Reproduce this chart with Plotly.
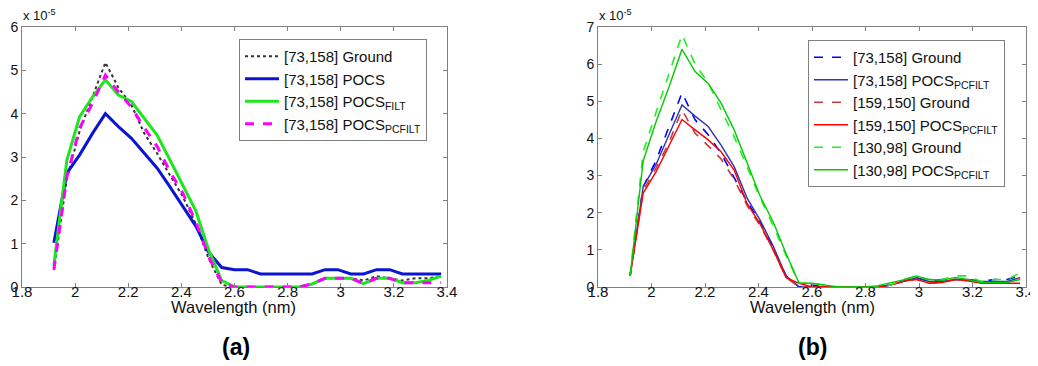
import plotly.graph_objects as go
from plotly.subplots import make_subplots

# Wavelength samples (x axis)
wavelength = [1.920, 1.969, 2.017, 2.066, 2.114, 2.163, 2.212, 2.260, 2.309, 2.357,
              2.406, 2.455, 2.503, 2.552, 2.600, 2.649, 2.698, 2.746, 2.795, 2.843,
              2.892, 2.941, 2.989, 3.038, 3.086, 3.135, 3.184, 3.232, 3.281, 3.329, 3.378]

# Panel (a) values, units of 1e-5
a_ground = [0.4, 2.5, 3.6, 4.4, 5.18, 4.6, 4.2, 3.55, 3.08, 2.58, 2.08, 1.45, 0.65, 0.05, 0, 0, 0, 0, 0, 0,
            0.07, 0.2, 0.2, 0.2, 0.15, 0.25, 0.2, 0.15, 0.2, 0.2, 0.25]
a_pocs = [1.02, 2.63, 3.05, 3.55, 4.0, 3.7, 3.43, 3.08, 2.74, 2.31, 1.85, 1.4, 0.8, 0.45, 0.4, 0.4, 0.3, 0.3, 0.3, 0.3,
          0.3, 0.4, 0.4, 0.3, 0.3, 0.4, 0.4, 0.3, 0.3, 0.3, 0.3]
a_filt = [0.5, 2.93, 3.93, 4.39, 4.78, 4.43, 4.28, 3.9, 3.5, 2.93, 2.35, 1.75, 0.85, 0.15, 0, 0, 0, 0, 0, 0,
          0.07, 0.2, 0.2, 0.2, 0.08, 0.2, 0.2, 0.1, 0.1, 0.15, 0.25]
a_pcfilt = [0.4, 2.55, 3.67, 4.25, 4.89, 4.5, 4.15, 3.68, 3.24, 2.66, 2.16, 1.5, 0.7, 0.1, 0, 0, 0, 0, 0, 0,
            0.07, 0.2, 0.2, 0.2, 0.08, 0.2, 0.2, 0.1, 0.1, 0.1, 0.1]

# Panel (b) values, units of 1e-5
b_g73 = [0.3, 2.7, 3.4, 4.3, 5.23, 4.5, 4.1, 3.6, 2.95, 2.3, 1.75, 1.05, 0.3, 0.0, 0.05, 0, 0, 0, 0, 0,
         0.05, 0.15, 0.25, 0.15, 0.2, 0.2, 0.2, 0.15, 0.2, 0.2, 0.3]
b_p73 = [0.3, 2.7, 3.3, 4.1, 4.9, 4.6, 4.32, 3.82, 3.24, 2.4, 1.8, 1.1, 0.3, 0.0, 0, 0, 0, 0, 0, 0,
         0.05, 0.15, 0.25, 0.15, 0.15, 0.2, 0.2, 0.15, 0.15, 0.15, 0.25]
b_g159 = [0.3, 2.6, 3.2, 3.9, 4.77, 4.14, 3.8, 3.45, 2.9, 2.2, 1.65, 1.0, 0.25, 0.0, 0, 0, 0, 0, 0, 0,
          0.05, 0.15, 0.2, 0.1, 0.12, 0.2, 0.17, 0.1, 0.1, 0.1, 0.25]
b_p159 = [0.3, 2.53, 3.1, 3.8, 4.51, 4.23, 3.96, 3.64, 3.15, 2.25, 1.7, 1.0, 0.25, 0.1, 0, 0, 0, 0, 0, 0,
          0.05, 0.15, 0.21, 0.1, 0.12, 0.2, 0.17, 0.1, 0.1, 0.1, 0.1]
b_g130 = [0.3, 3.64, 4.7, 5.75, 6.79, 6.0, 5.5, 4.77, 4.05, 3.24, 2.4, 1.65, 0.85, 0.1, 0.1, 0.05, 0, 0, 0, 0,
          0.05, 0.2, 0.28, 0.2, 0.2, 0.3, 0.3, 0.15, 0.2, 0.2, 0.38]
b_p130 = [0.3, 3.4, 4.45, 5.4, 6.4, 5.8, 5.48, 4.95, 4.23, 3.33, 2.45, 1.75, 0.9, 0.1, 0.1, 0.05, 0, 0, 0, 0.03,
          0.1, 0.19, 0.3, 0.2, 0.18, 0.26, 0.2, 0.12, 0.12, 0.12, 0.2]

x_ticks = [1.8, 2, 2.2, 2.4, 2.6, 2.8, 3, 3.2, 3.4]
x_tick_text = ["1.8", "2", "2.2", "2.4", "2.6", "2.8", "3", "3.2", "3.4"]

# The page body has an 8px margin; lay out in window pixels and shift by it.
OFF = 8
W, H = 1038 - OFF, 366 - OFF
TOP, BOT = 27 - OFF, 287 - OFF


def px(xw):
    return (xw - OFF) / W


def py(yw):
    return (BOT - (yw - OFF)) / (BOT - TOP)


fig = make_subplots(rows=1, cols=2)


def add(col, y, name, color, width, dash, legend):
    fig.add_trace(go.Scatter(x=wavelength, y=y, mode="lines", name=name,
                             line=dict(color=color, width=width, dash=dash),
                             legend=legend), row=1, col=col)


add(1, a_ground, "[73,158] Ground", "#333333", 2, "dot", "legend")
add(1, a_pocs, "[73,158] POCS", "#0a14d2", 3, "solid", "legend")
add(1, a_filt, "[73,158] POCS<sub>FILT</sub>", "#1ee61e", 3, "solid", "legend")
add(1, a_pcfilt, "[73,158] POCS<sub>PCFILT</sub>", "#ff00ff", 3, "dash", "legend")

add(2, b_g73, "[73,158] Ground", "#0000ff", 1.6, "dash", "legend2")
add(2, b_p73, "[73,158] POCS<sub>PCFILT</sub>", "#3232b4", 1.4, "solid", "legend2")
add(2, b_g159, "[159,150] Ground", "#c83c3c", 1.6, "dash", "legend2")
add(2, b_p159, "[159,150] POCS<sub>PCFILT</sub>", "#ff0000", 1.4, "solid", "legend2")
add(2, b_g130, "[130,98] Ground", "#22ee22", 1.6, "dash", "legend2")
add(2, b_p130, "[130,98] POCS<sub>PCFILT</sub>", "#00cc00", 1.4, "solid", "legend2")

axis_common = dict(showline=True, linecolor="#808080", linewidth=1, mirror="ticks",
                   ticks="inside", ticklen=4, tickcolor="#808080", showgrid=False,
                   zeroline=False)

fig.update_xaxes(range=[1.8, 3.4], tickvals=x_ticks, ticktext=x_tick_text,
                 tickfont=dict(family="Arial", size=15, color="#111"),
                 ticklabelstandoff=-9, **axis_common)
fig.update_layout(xaxis=dict(domain=[px(22), px(447)]), xaxis2=dict(domain=[px(598), px(1026)]))
fig.update_yaxes(range=[0, 6], tickvals=[0, 1, 2, 3, 4, 5, 6], row=1, col=1,
                 tickfont=dict(family="Arial", size=14, color="#111"), **axis_common)
fig.update_yaxes(range=[0, 7], tickvals=[0, 1, 2, 3, 4, 5, 6, 7], row=1, col=2,
                 tickfont=dict(family="Arial", size=14, color="#111"), **axis_common)

legend_common = dict(bgcolor="white", bordercolor="#808080", borderwidth=1,
                     font=dict(family="Arial", size=15, color="#111"),
                     xanchor="left", yanchor="top", itemwidth=34, tracegroupgap=0)

ann_font = dict(family="Arial", size=13, color="#111")
annotations = [
    dict(text="x 10<sup>-5</sup>", x=px(21), y=py(25), xref="paper", yref="paper",
         showarrow=False, xanchor="left", yanchor="bottom", font=ann_font),
    dict(text="x 10<sup>-5</sup>", x=px(597), y=py(25), xref="paper", yref="paper",
         showarrow=False, xanchor="left", yanchor="bottom", font=ann_font),
    dict(text="Wavelength (nm)", x=px(233), y=py(307), xref="paper", yref="paper",
         showarrow=False, xanchor="center", yanchor="middle",
         font=dict(family="Arial", size=16.5, color="#111")),
    dict(text="Wavelength (nm)", x=px(812), y=py(307), xref="paper", yref="paper",
         showarrow=False, xanchor="center", yanchor="middle",
         font=dict(family="Arial", size=16.5, color="#111")),
    dict(text="<b>(a)</b>", x=px(236), y=py(347), xref="paper", yref="paper",
         showarrow=False, xanchor="center", yanchor="middle", font=dict(family="Arial", size=23, color="#000")),
    dict(text="<b>(b)</b>", x=px(812), y=py(347), xref="paper", yref="paper",
         showarrow=False, xanchor="center", yanchor="middle", font=dict(family="Arial", size=23, color="#000")),
]

fig.update_layout(
    width=W, height=H,
    margin=dict(l=0, r=0, t=TOP, b=H - BOT, autoexpand=False),
    paper_bgcolor="white", plot_bgcolor="white",
    showlegend=True,
    legend=dict(x=px(239), y=py(39), **legend_common),
    legend2=dict(x=px(808), y=py(40), **legend_common),
    annotations=annotations,
)

fig.write_html("out.html")
